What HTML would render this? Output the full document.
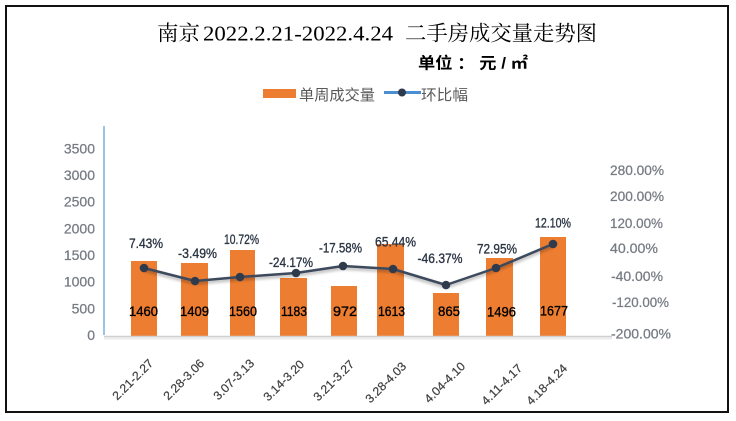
<!DOCTYPE html>
<html><head><meta charset="utf-8"><style>
html,body{margin:0;padding:0;background:#fff;}
svg{display:block;}
</style></head><body>
<svg width="736" height="421" viewBox="0 0 736 421" xmlns="http://www.w3.org/2000/svg">
<defs>
<filter id="sh" x="-10%" y="-30%" width="120%" height="160%">
<feGaussianBlur in="SourceAlpha" stdDeviation="1.5"/>
<feOffset dx="0" dy="2" result="b"/>
<feComponentTransfer><feFuncA type="linear" slope="0.35"/></feComponentTransfer>
<feMerge><feMergeNode/><feMergeNode in="SourceGraphic"/></feMerge>
</filter>
</defs>
<rect x="0" y="0" width="736" height="421" fill="#fff"/>
<rect x="6" y="6" width="722" height="406" fill="none" stroke="#111" stroke-width="2"/>

<!-- title -->
<g font-family="'Liberation Serif','Noto Serif CJK SC',serif" font-size="21" fill="#000">
<text x="157" y="40.5" textLength="43" lengthAdjust="spacingAndGlyphs">南京</text>
<text x="203" y="40.5" textLength="190" lengthAdjust="spacingAndGlyphs">2022.2.21-2022.4.24</text>
<text x="405" y="40.5" textLength="192" lengthAdjust="spacingAndGlyphs">二手房成交量走势图</text>
</g>
<text x="418" y="68.5" font-family="'Liberation Sans','Noto Sans CJK SC',sans-serif" font-weight="bold" font-size="16" fill="#000" textLength="110" lengthAdjust="spacingAndGlyphs">单位 ： 元 / ㎡</text>

<!-- legend -->
<rect x="263" y="89" width="33" height="9" fill="#ed7d31"/>
<text x="299" y="100" font-family="'Liberation Sans','Noto Sans CJK SC',sans-serif" font-size="15" fill="#595959" textLength="76" lengthAdjust="spacingAndGlyphs">单周成交量</text>
<line x1="384" y1="92.5" x2="421" y2="92.5" stroke="#4a8fd4" stroke-width="3"/>
<circle cx="402" cy="92.5" r="4" fill="#2f3b4d"/>
<text x="421" y="100" font-family="'Liberation Sans','Noto Sans CJK SC',sans-serif" font-size="15" fill="#595959" textLength="47" lengthAdjust="spacingAndGlyphs">环比幅</text>

<!-- left axis -->
<line x1="104" y1="126" x2="104" y2="335" stroke="#5b9bd5" stroke-width="1.2"/>
<g font-family="'Liberation Sans',sans-serif" font-size="14" fill="#767b84" stroke="#767b84" stroke-width="0.25" text-anchor="end">
<text x="95" y="153.3">3500</text>
<text x="95" y="180">3000</text>
<text x="95" y="206.6">2500</text>
<text x="95" y="233.3">2000</text>
<text x="95" y="260">1500</text>
<text x="95" y="286.6">1000</text>
<text x="95" y="313.3">500</text>
<text x="95" y="340">0</text>
</g>

<!-- right axis -->
<g font-family="'Liberation Sans',sans-serif" font-size="13.5" fill="#767b84" stroke="#767b84" stroke-width="0.25">
<text x="610" y="175" textLength="54" lengthAdjust="spacingAndGlyphs">280.00%</text>
<text x="610" y="201" textLength="54" lengthAdjust="spacingAndGlyphs">200.00%</text>
<text x="610" y="228" textLength="53" lengthAdjust="spacingAndGlyphs">120.00%</text>
<text x="610" y="253" textLength="48" lengthAdjust="spacingAndGlyphs">40.00%</text>
<text x="611" y="281" textLength="52" lengthAdjust="spacingAndGlyphs">-40.00%</text>
<text x="612" y="307" textLength="57" lengthAdjust="spacingAndGlyphs">-120.00%</text>
<text x="611" y="338.5" textLength="60" lengthAdjust="spacingAndGlyphs">-200.00%</text>
</g>

<!-- bars -->
<g fill="#ed7d31">
<rect x="131" y="261" width="26" height="75"/>
<rect x="181" y="263" width="27" height="73"/>
<rect x="230" y="250" width="25" height="86"/>
<rect x="280" y="278" width="27" height="58"/>
<rect x="331" y="286" width="26" height="50"/>
<rect x="377" y="244" width="27" height="92"/>
<rect x="433" y="293" width="26" height="43"/>
<rect x="486" y="258" width="27" height="78"/>
<rect x="540" y="237" width="26" height="99"/>
</g>

<!-- baseline -->
<line x1="104" y1="338.5" x2="612" y2="338.5" stroke="#ececec" stroke-width="2"/>
<line x1="104" y1="336.5" x2="612" y2="336.5" stroke="#cfcfcf" stroke-width="1.6"/>

<!-- value labels -->
<g font-family="'Liberation Sans',sans-serif" font-size="14" fill="#000" stroke="#000" stroke-width="0.35" text-anchor="middle">
<text x="143.5" y="316" textLength="29" lengthAdjust="spacingAndGlyphs">1460</text>
<text x="194.5" y="316" textLength="29" lengthAdjust="spacingAndGlyphs">1409</text>
<text x="243" y="316" textLength="28" lengthAdjust="spacingAndGlyphs">1560</text>
<text x="294" y="316" textLength="26" lengthAdjust="spacingAndGlyphs">1183</text>
<text x="345" y="316" textLength="24" lengthAdjust="spacingAndGlyphs">972</text>
<text x="391.5" y="316" textLength="27" lengthAdjust="spacingAndGlyphs">1613</text>
<text x="449" y="316" textLength="22" lengthAdjust="spacingAndGlyphs">865</text>
<text x="501.5" y="316.5" textLength="29" lengthAdjust="spacingAndGlyphs">1496</text>
<text x="554" y="315.5" textLength="28" lengthAdjust="spacingAndGlyphs">1677</text>
</g>

<!-- line series -->
<g filter="url(#sh)">
<polyline points="144,268 195,281 240,277 296,273 343,266 393,269 446,285 496,268 553,244" fill="none" stroke="#3d4a5c" stroke-width="2.5" stroke-linejoin="round"/>
</g>
<g fill="#2f3b4d">
<circle cx="144" cy="268" r="4.3"/>
<circle cx="195" cy="281" r="4.3"/>
<circle cx="240" cy="277" r="4.3"/>
<circle cx="296" cy="273" r="4.3"/>
<circle cx="343" cy="266" r="4.3"/>
<circle cx="393" cy="269" r="4.3"/>
<circle cx="446" cy="285" r="4.3"/>
<circle cx="496" cy="268" r="4.3"/>
<circle cx="553" cy="244" r="4.3"/>
</g>

<!-- percent labels -->
<g font-family="'Liberation Sans',sans-serif" font-size="14" fill="#2b3544" stroke="#2b3544" stroke-width="0.35" text-anchor="middle">
<text x="146" y="248" textLength="34" lengthAdjust="spacingAndGlyphs">7.43%</text>
<text x="197.5" y="258" textLength="39" lengthAdjust="spacingAndGlyphs">-3.49%</text>
<text x="241.5" y="244" textLength="35" lengthAdjust="spacingAndGlyphs">10.72%</text>
<text x="291" y="267" textLength="44" lengthAdjust="spacingAndGlyphs">-24.17%</text>
<text x="340.5" y="252.5" textLength="43" lengthAdjust="spacingAndGlyphs">-17.58%</text>
<text x="395.5" y="246.5" textLength="41" lengthAdjust="spacingAndGlyphs">65.44%</text>
<text x="440" y="263" textLength="45" lengthAdjust="spacingAndGlyphs">-46.37%</text>
<text x="497" y="253.5" textLength="40" lengthAdjust="spacingAndGlyphs">72.95%</text>
<text x="553" y="227.5" textLength="36" lengthAdjust="spacingAndGlyphs">12.10%</text>
</g>

<!-- x labels -->
<g font-family="'Liberation Sans',sans-serif" font-size="12" fill="#404040" stroke="#404040" stroke-width="0.2" text-anchor="end">
<text transform="translate(154,364) rotate(-45)" textLength="52" lengthAdjust="spacingAndGlyphs">2.21-2.27</text>
<text transform="translate(205,364) rotate(-45)" textLength="52" lengthAdjust="spacingAndGlyphs">2.28-3.06</text>
<text transform="translate(255,364) rotate(-45)" textLength="52" lengthAdjust="spacingAndGlyphs">3.07-3.13</text>
<text transform="translate(305,365) rotate(-45)" textLength="52" lengthAdjust="spacingAndGlyphs">3.14-3.20</text>
<text transform="translate(355,365) rotate(-45)" textLength="52" lengthAdjust="spacingAndGlyphs">3.21-3.27</text>
<text transform="translate(407,367) rotate(-45)" textLength="52" lengthAdjust="spacingAndGlyphs">3.28-4.03</text>
<text transform="translate(466,367) rotate(-45)" textLength="52" lengthAdjust="spacingAndGlyphs">4.04-4.10</text>
<text transform="translate(523,369) rotate(-45)" textLength="52" lengthAdjust="spacingAndGlyphs">4.11-4.17</text>
<text transform="translate(568,369) rotate(-45)" textLength="52" lengthAdjust="spacingAndGlyphs">4.18-4.24</text>
</g>
</svg>
</body></html>
